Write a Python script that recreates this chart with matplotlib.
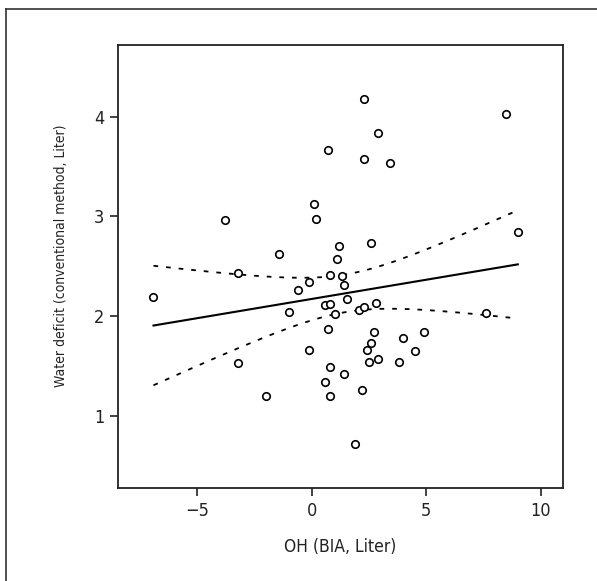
import numpy as np
import matplotlib
matplotlib.use("Agg")
import matplotlib.pyplot as plt
from matplotlib.lines import Line2D
from matplotlib import font_manager as fm

# Data
oh_bia = [-6.91, -3.79, -3.20, -3.20, -1.99, -1.45, -0.99, -0.60, -0.10, -0.10,
          0.11, 0.20, 0.70, 0.80, 0.60, 0.81, 0.70, 0.80, 0.60, 0.80,
          1.00, 1.10, 1.18, 1.31, 1.41, 1.52, 1.40, 1.90, 2.08, 2.29,
          2.19, 2.29, 2.29, 2.60, 2.79, 2.70, 2.60, 2.40, 2.49, 2.89,
          2.90, 3.40, 3.79, 4.00, 4.50, 4.90, 7.59, 8.50, 9.00]
water_deficit = [2.19, 2.96, 2.43, 1.53, 1.20, 2.62, 2.04, 2.26, 2.34, 1.66,
                 3.12, 2.97, 3.67, 2.41, 2.11, 2.12, 1.87, 1.49, 1.34, 1.20,
                 2.02, 2.57, 2.70, 2.40, 2.31, 2.17, 1.42, 0.72, 2.06, 2.09,
                 1.26, 4.18, 3.58, 2.73, 2.13, 1.84, 1.73, 1.66, 1.54, 1.57,
                 3.84, 3.54, 1.54, 1.78, 1.65, 1.84, 2.03, 4.03, 2.84]
x_ticks = [-5, 0, 5, 10]
y_ticks = [1, 2, 3, 4]
t_crit = 1.678  # t(0.95, df=47): 90% confidence band

x = np.array(oh_bia)
y = np.array(water_deficit)
n = len(x)
slope, intercept = np.polyfit(x, y, 1)
resid = y - (intercept + slope * x)
s = np.sqrt(np.sum(resid ** 2) / (n - 2))
xbar = x.mean()
sxx = np.sum((x - xbar) ** 2)
xs = np.linspace(x.min(), x.max(), 200)
yhat = intercept + slope * xs
half = t_crit * s * np.sqrt(1.0 / n + (xs - xbar) ** 2 / sxx)

# ---- font selection: prefer condensed faces ----
def _w(v):
    if isinstance(v, str):
        return fm.weight_dict.get(v, 400)
    return v

def _s(v):
    if isinstance(v, str):
        return fm.stretch_dict.get(v, 500)
    return v

names = {f.name: f for f in fm.fontManager.ttflist}
cond = [f for f in fm.fontManager.ttflist
        if ('Narrow' in f.name or 'Condensed' in f.name or 'Condensed' in f.fname
            or 'Narrow' in f.fname) and f.style == 'normal']
cond_regular = [f for f in cond if _w(f.weight) == 400 and 'Italic' not in f.fname]
label_fp = None
if 'Liberation Sans Narrow' in names:
    plt.rcParams['font.family'] = ['Liberation Sans Narrow', 'DejaVu Sans']
elif cond:
    fp = fm.FontProperties(fname=cond[0].fname)
    plt.rcParams['font.family'] = [fp.get_name(), 'DejaVu Sans']
    plt.rcParams['font.stretch'] = cond[0].stretch
else:
    plt.rcParams['font.family'] = ['DejaVu Sans']
    plt.rcParams['font.stretch'] = 'condensed'
if cond_regular:
    most = min(cond_regular, key=lambda f: _s(f.stretch))
    label_fp = fm.FontProperties(fname=most.fname)

fig = plt.figure(figsize=(5.97, 5.81), dpi=100)
ax = fig.add_axes([118 / 597, 1 - 488 / 581, (562.7 - 118) / 597, (488 - 44.7) / 581])

ax.plot(x, y, linestyle='none', marker='o', markersize=5.4, markerfacecolor='white',
        markeredgecolor='black', markeredgewidth=1.2, zorder=3)
ax.plot(xs, yhat, color='black', lw=1.5, zorder=2)
ax.plot(xs, yhat + half, color='black', lw=1.3, linestyle=(0, (2.6, 4.4)), zorder=2)
ax.plot(xs, yhat - half, color='black', lw=1.3, linestyle=(0, (2.6, 4.4)), zorder=2)

ax.set_xlim(-8.46, 10.96)
ax.set_ylim(0.28, 4.72)
ax.set_xticks(x_ticks)
ax.set_xticklabels(['\u22125', '0', '5', '10'])
ax.set_yticks(y_ticks)
ax.set_yticklabels([str(v) for v in y_ticks])
ax.tick_params(direction='out', length=6, width=1.2, labelsize=13, pad=4, colors='#222222')
for sp in ax.spines.values():
    sp.set_linewidth(1.3)
    sp.set_color('#222222')

ax.set_xlabel('OH (BIA, Liter)', fontsize=12.5, color='#222222', labelpad=13)
ylab_kw = dict(color='#222222')
if label_fp is not None:
    ylab_kw['fontproperties'] = label_fp
ylab = ax.set_ylabel('Water deficit (conventional method, Liter)', **ylab_kw)
ylab.set_fontsize(12)
ax.yaxis.set_label_coords(-0.113, 0.523)

# fit the y label length to the reference (~263 px)
fig.canvas.draw()
r = fig.canvas.get_renderer()
h = ylab.get_window_extent(r).height
if h > 0:
    ylab.set_fontsize(12 * 263.0 / h)

# outer frame (left and top edges visible)
fig.add_artist(Line2D([6 / 597, 6 / 597], [0, 1 - 9 / 581], transform=fig.transFigure,
                      color='#333333', lw=1.2))
fig.add_artist(Line2D([6 / 597, 1], [1 - 9 / 581, 1 - 9 / 581], transform=fig.transFigure,
                      color='#333333', lw=1.2))

fig.savefig('out.png', dpi=100)
